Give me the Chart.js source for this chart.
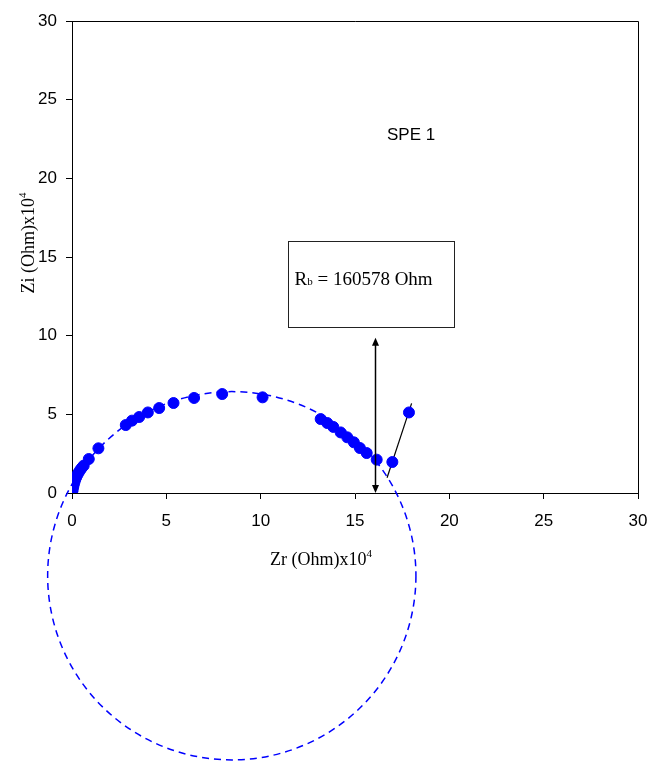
<!DOCTYPE html>
<html>
<head>
<meta charset="utf-8">
<script src="https://cdn.jsdelivr.net/npm/chart.js@4.4.1/dist/chart.umd.min.js"></script>
<style>
  html, body { margin: 0; padding: 0; background: #fff; }
  canvas { display: block; }
</style>
</head>
<body>
<canvas id="nyquist" width="652" height="761"></canvas>
<script>
// Impedance data, Zr and Zi in Ohm x 10^4
const zr = [0.0, 0.02, 0.03, 0.05, 0.08, 0.10, 0.14, 0.18, 0.23, 0.29, 0.36, 0.44, 0.52, 0.62, 0.89, 1.40,
  2.85, 3.18, 3.56, 4.02, 4.62, 5.38, 6.47, 7.96, 10.1,
  13.18, 13.53, 13.85, 14.24, 14.59, 14.94, 15.26, 15.62, 16.15, 16.98, 17.86];
const zi = [0.05, 0.12, 0.22, 0.34, 0.47, 0.60, 0.74, 0.88, 1.02, 1.17, 1.32, 1.47, 1.60, 1.74, 2.16, 2.84,
  4.32, 4.60, 4.83, 5.12, 5.40, 5.72, 6.04, 6.29, 6.08,
  4.70, 4.45, 4.20, 3.85, 3.54, 3.22, 2.86, 2.54, 2.12, 1.97, 5.12];

// straight line through the low-frequency tail
const tailZr = [16.7, 18.0];
const tailZi = [0.97, 5.7];

// fitted semicircle (centre and radius, Ohm x 10^4)
const arcCentre = [8.47, -5.26];
const arcRadius = 9.76;

// bulk resistance
const rbOhm = 160578;
const rbArrowTop = 9.87;
const rbBox = [11.46, 20.27, 16.0, 10.53]; // left, right, top, bottom

const axisMin = 0;
const axisMax = 30;
const axisStep = 5;

const blue = "#0000ff";
const sans = "'Liberation Sans', Arial, sans-serif";
const serif = "'Liberation Serif', 'Times New Roman', serif";

function measureTitle(ctx, base, sup, size) {
  ctx.font = size + "px " + serif;
  const w1 = ctx.measureText(base).width;
  ctx.font = Math.round(size * 0.62) + "px " + serif;
  const w2 = ctx.measureText(sup).width;
  return { w1, w2, total: w1 + w2 };
}

function drawTitle(ctx, base, sup, size, x, y) {
  const m = measureTitle(ctx, base, sup, size);
  const sx = x - m.total / 2;
  ctx.font = size + "px " + serif;
  ctx.fillText(base, sx, y);
  ctx.font = Math.round(size * 0.62) + "px " + serif;
  ctx.fillText(sup, sx + m.w1, y - size * 0.45);
}

const extras = {
  id: "extras",
  beforeDatasetsDraw(chart) {
    const { ctx, scales: { x, y } } = chart;
    // dashed fitted circle
    const cx = x.getPixelForValue(arcCentre[0]);
    const cy = y.getPixelForValue(arcCentre[1]);
    const r = x.getPixelForValue(arcCentre[0] + arcRadius) - cx;
    ctx.save();
    ctx.strokeStyle = blue;
    ctx.lineWidth = 1.5;
    ctx.setLineDash([7, 5]);
    ctx.beginPath();
    ctx.arc(cx, cy, r, 0, Math.PI * 2);
    ctx.stroke();
    ctx.restore();
  },
  afterDraw(chart) {
    const { ctx, chartArea: a, scales: { x, y } } = chart;
    ctx.save();
    // frame top and right
    ctx.strokeStyle = "#000";
    ctx.lineWidth = 1;
    ctx.beginPath();
    ctx.moveTo(a.left, a.top + 0.5);
    ctx.lineTo(Math.round(a.right) + 0.5, a.top + 0.5);
    ctx.lineTo(Math.round(a.right) + 0.5, a.bottom);
    ctx.stroke();

    // Rb double arrow
    const ax = Math.round(x.getPixelForValue(rbOhm / 1e4)) + 0.5;
    const ay0 = y.getPixelForValue(0);
    const ay1 = y.getPixelForValue(rbArrowTop);
    ctx.lineWidth = 1.5;
    ctx.beginPath();
    ctx.moveTo(ax, ay0 - 6);
    ctx.lineTo(ax, ay1 + 6);
    ctx.stroke();
    ctx.fillStyle = "#000";
    ctx.beginPath();
    ctx.moveTo(ax, ay1);
    ctx.lineTo(ax - 3.5, ay1 + 8);
    ctx.lineTo(ax + 3.5, ay1 + 8);
    ctx.closePath();
    ctx.fill();
    ctx.beginPath();
    ctx.moveTo(ax, ay0);
    ctx.lineTo(ax - 3.5, ay0 - 8);
    ctx.lineTo(ax + 3.5, ay0 - 8);
    ctx.closePath();
    ctx.fill();

    // Rb text box
    const bl = Math.round(x.getPixelForValue(rbBox[0])) + 0.5;
    const br = Math.round(x.getPixelForValue(rbBox[1])) + 0.5;
    const bt = Math.round(y.getPixelForValue(rbBox[2])) + 0.5;
    const bb = Math.round(y.getPixelForValue(rbBox[3])) + 0.5;
    ctx.lineWidth = 1;
    ctx.strokeStyle = "#222";
    ctx.strokeRect(bl, bt, br - bl, bb - bt);
    ctx.fillStyle = "#000";
    ctx.textBaseline = "alphabetic";
    ctx.textAlign = "left";
    let tx = bl + 6;
    const ty = bt + 43;
    ctx.font = "19px " + serif;
    ctx.fillText("R", tx, ty);
    tx += ctx.measureText("R").width;
    ctx.font = "11px " + serif;
    ctx.fillText("b", tx, ty);
    tx += ctx.measureText("b").width;
    ctx.font = "19px " + serif;
    ctx.fillText(" = " + rbOhm + " Ohm", tx, ty);

    // sample name
    ctx.font = "17px " + sans;
    ctx.fillText("SPE 1", 387, 140);

    // axis titles with superscript exponent
    drawTitle(ctx, "Zr (Ohm)x10", "4", 18, 321, 565);
    ctx.translate(34, 243);
    ctx.rotate(-Math.PI / 2);
    drawTitle(ctx, "Zi (Ohm)x10", "4", 18, 0, 0);
    ctx.restore();
  }
};

const axisStyle = {
  type: "linear",
  min: axisMin,
  max: axisMax,
  grid: { drawOnChartArea: false, drawTicks: true, tickLength: 6, color: "#000", lineWidth: 1 },
  border: { display: true, color: "#000", width: 1 },
};

new Chart(document.getElementById("nyquist"), {
  type: "scatter",
  data: {
    datasets: [
      {
        label: "SPE 1",
        data: zr.map((v, i) => ({ x: v, y: zi[i] })),
        backgroundColor: blue,
        borderColor: blue,
        pointRadius: 5.5,
        borderWidth: 1,
      },
      {
        label: "tail",
        data: tailZr.map((v, i) => ({ x: v, y: tailZi[i] })),
        showLine: true,
        borderColor: "#000",
        borderWidth: 1.2,
        pointRadius: 0,
      },
    ],
  },
  options: {
    responsive: false,
    animation: false,
    devicePixelRatio: 1,
    layout: { padding: { top: 21, right: 14, left: 0, bottom: 0 } },
    plugins: {
      legend: { display: false },
      tooltip: { enabled: false },
    },
    scales: {
      x: {
        ...axisStyle,
        position: "bottom",
        ticks: { stepSize: axisStep, color: "#000", padding: 12, font: { family: sans, size: 17 }, maxRotation: 0 },
        afterFit(scale) {
          scale.height = 268;
          scale.paddingLeft = 0;
          scale.paddingRight = 0;
        },
      },
      y: {
        ...axisStyle,
        position: "left",
        ticks: { stepSize: axisStep, color: "#000", padding: 9, font: { family: sans, size: 17 } },
        afterFit(scale) {
          scale.width = 72;
          scale.paddingTop = 0;
          scale.paddingBottom = 0;
        },
      },
    },
  },
  plugins: [extras],
});
</script>
</body>
</html>
